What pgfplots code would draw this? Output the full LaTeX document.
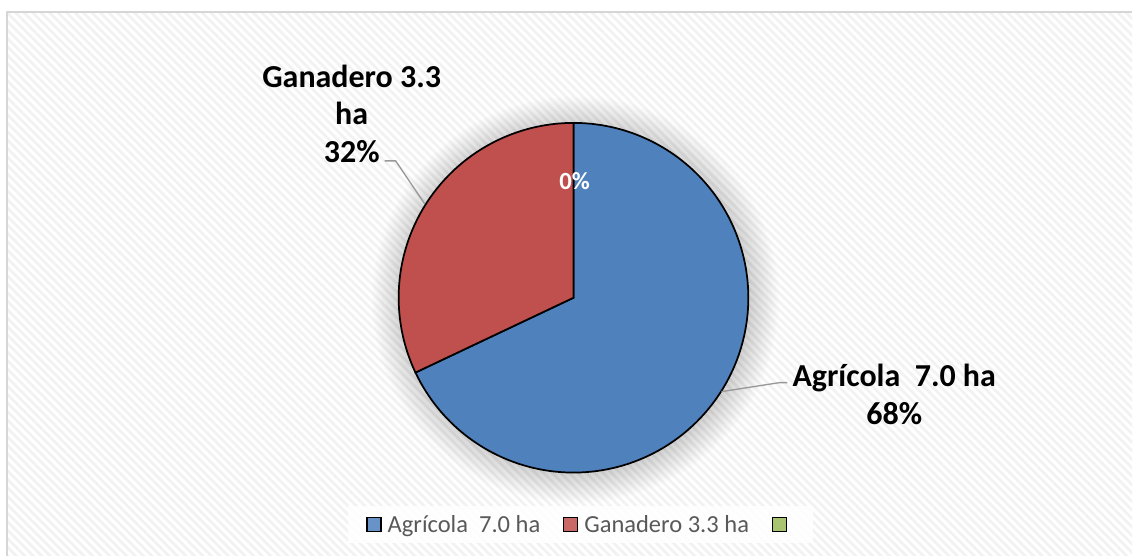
\documentclass[border=0pt]{standalone}
\usepackage{pgfplots}
\pgfplotsset{compat=1.18}
\usepackage{fontspec}
\setmainfont{Carlito}
\usetikzlibrary{patterns.meta}
\definecolor{agri}{HTML}{4F81BD}
\definecolor{gana}{HTML}{C0504D}
\definecolor{otro}{HTML}{9BBB59}
\definecolor{legtext}{HTML}{595959}
% data (ha)
\pgfmathsetmacro{\vA}{7.0}
\pgfmathsetmacro{\vB}{3.3}
\pgfmathsetmacro{\vC}{0.0}
\pgfmathsetmacro{\total}{\vA+\vB+\vC}
\pgfmathsetmacro{\aA}{360*\vA/\total}
\pgfmathsetmacro{\aB}{360*\vB/\total}
\pgfmathsetmacro{\sA}{90-\aA}
\pgfmathsetmacro{\sB}{90-\aA-\aB}
\begin{document}
\begin{tikzpicture}
\begin{axis}[x=0.75pt,y=0.75pt,xmin=0,xmax=1133,ymin=0,ymax=556,
  hide axis, clip=false, scale only axis,
  legend style={at={(axis cs:581,31)}, anchor=center, draw=none,
    fill=white, fill opacity=0.85, text opacity=1,
    legend columns=3, font=\fontsize{18.4}{21}\selectfont\color{legtext},
    inner xsep=14pt, inner ysep=5pt,
    /tikz/every odd column/.append style={column sep=0pt},
    /tikz/every even column/.append style={column sep=15pt}},
  legend image code/.code={\draw[#1] (0pt,-5.25pt) rectangle (10.5pt,5.25pt); \path (13pt,0pt);}]
\fill[white] (axis cs:0,0) rectangle (axis cs:1133,556);
\fill[pattern={Lines[angle=-45,distance=4.5pt,line width=2pt]}, pattern color=black!5]
  (axis cs:7,0) rectangle (axis cs:1133,544);
\draw[black!16, line width=1.5pt] (axis cs:7.5,0) -- (axis cs:7.5,543.5) -- (axis cs:1133,543.5);
\pgfplotsinvokeforeach{1,...,22}{
  \fill[black, opacity=0.008] (axis cs:576,256) circle[radius={(173+1.4*#1)*0.75pt}];
}
\addplot[fill=agri, draw=black, line width=1.3pt, domain=\sA:90, samples=160, variable=\t, forget plot]
  ({574+175*cos(\t)},{258+175*sin(\t)}) -- (axis cs:574,258) -- cycle;
\addplot[fill=gana, draw=black, line width=1.3pt, domain=\sB:\sA, samples=100, variable=\t, forget plot]
  ({574+175*cos(\t)},{258+175*sin(\t)}) -- (axis cs:574,258) -- cycle;
\draw[black!40, line width=1pt] (axis cs:385,395) -- (axis cs:396,395) -- (axis cs:425,352);
\draw[black!40, line width=1pt] (axis cs:788,173) -- (axis cs:780,173) -- (axis cs:722,164);
\node[align=center, font=\fontsize{24}{28.5}\selectfont\bfseries] at (axis cs:352,442) {Ganadero 3.3\\ha\\32\%};
\node[align=center, font=\fontsize{24}{28.5}\selectfont\bfseries] at (axis cs:895,161) {Agrícola\ \ 7.0 ha\\68\%};
\node[white, font=\fontsize{18.5}{22}\selectfont\bfseries] at (axis cs:575,375) {0\%};
\addlegendimage{fill=agri, draw=black, line width=1pt}
\addlegendentry{Agrícola\ \ 7.0 ha}
\addlegendimage{fill=gana, draw=black, line width=1pt}
\addlegendentry{Ganadero 3.3 ha}
\addlegendimage{fill=otro, draw=none}
\addlegendentry{}
\end{axis}
\end{tikzpicture}
\end{document}
